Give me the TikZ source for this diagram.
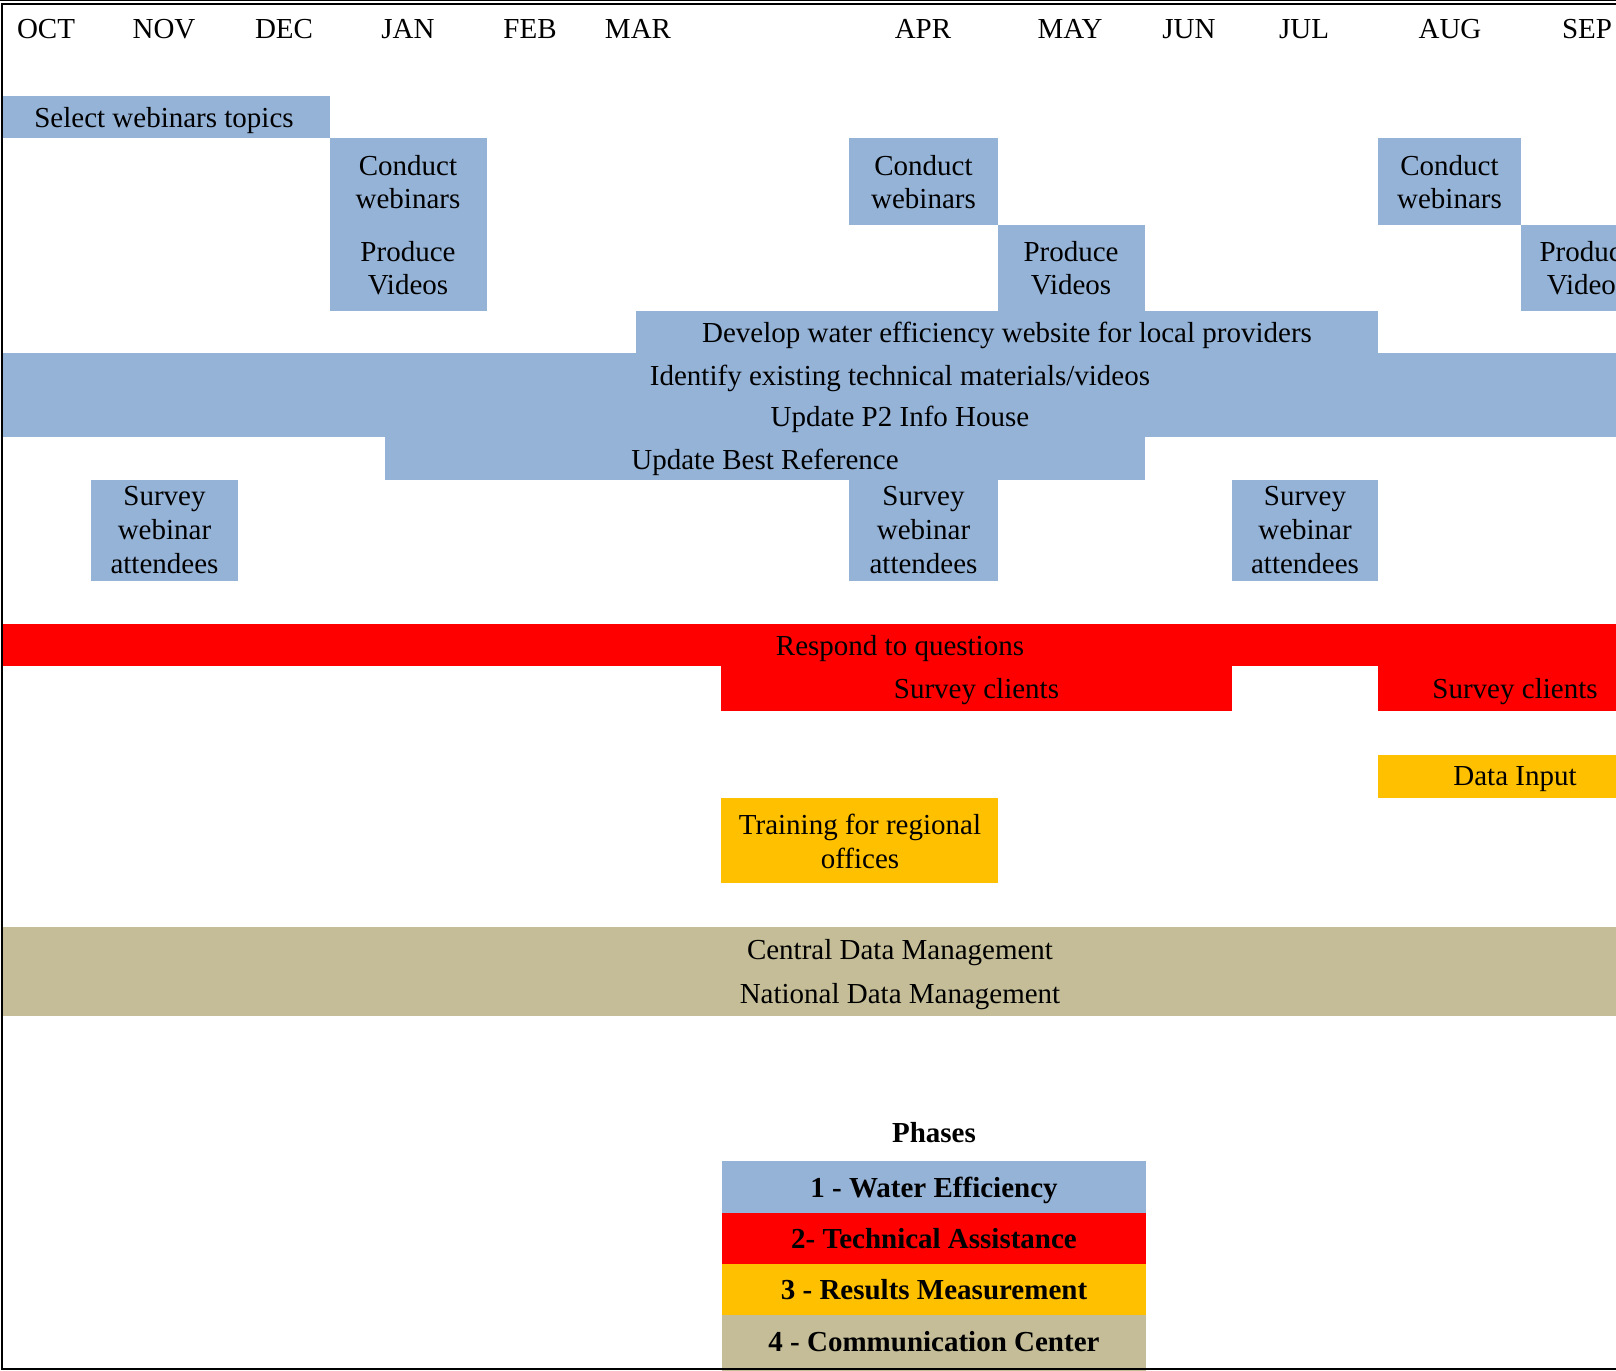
\documentclass[tikz,border=0pt]{standalone}
\usepackage{fontspec}
\setmainfont{Liberation Serif}
\definecolor{wblue}{HTML}{95B3D7}
\definecolor{tred}{HTML}{FF0000}
\definecolor{rgold}{HTML}{FFC000}
\definecolor{ctan}{HTML}{C4BD97}
\begin{document}
\begin{tikzpicture}[x=1pt,y=-1pt,
  lbl/.style={anchor=base, inner sep=0pt, font=\fontsize{29}{34}\selectfont},
  hd/.style={anchor=base, inner sep=0pt, font=\bfseries\fontsize{29}{34}\selectfont},
  pb/.style={fill=wblue}, pr/.style={fill=tred}, pg/.style={fill=rgold}, pt/.style={fill=ctan}]
\useasboundingbox (0,0) rectangle (1616,1370);
\clip (0,0) rectangle (1616,1370);
\fill[white] (0,0) rectangle (1616,1370);
% phase 1 bars
\path[pb] (2,96) rectangle (330,138);
\path[pb] (330,138) rectangle (487,311);
\path[pb] (849,138) rectangle (998,225);
\path[pb] (998,225) rectangle (1145,311);
\path[pb] (1378,138) rectangle (1521,225);
\path[pb] (1521,225) rectangle (1630,311);
\path[pb] (636,311) rectangle (1378,353);
\path[pb] (2,353) rectangle (1630,437);
\path[pb] (385,437) rectangle (1145,480);
\path[pb] (91,480) rectangle (238,581);
\path[pb] (849,480) rectangle (998,581);
\path[pb] (1232,480) rectangle (1378,581);
% phase 2 bars
\path[pr] (2,624) rectangle (1630,666);
\path[pr] (721,666) rectangle (1232,711);
\path[pr] (1378,666) rectangle (1630,711);
% phase 3 bars
\path[pg] (1378,755) rectangle (1630,798);
\path[pg] (721,798) rectangle (998,883);
% phase 4 bar
\path[pt] (2,927) rectangle (1630,1016);
% legend
\path[pb] (722,1161) rectangle (1146,1213);
\path[pr] (722,1213) rectangle (1146,1264);
\path[pg] (722,1264) rectangle (1146,1315);
\path[pt] (722,1315) rectangle (1146,1372);
% frame
\draw[line width=1pt] (0,0.5) -- (1616,0.5);
\draw[line width=2pt] (1,4.5) -- (1616,4.5);
\draw[line width=2.5pt] (2,4) -- (2,1369);
\draw[line width=2pt] (1,1369) -- (1616,1369);
% months
\node[lbl] (oct) at (46,39) {OCT};
\node[lbl] (nov) at (164,39) {NOV};
\node[lbl] (dec) at (284,39) {DEC};
\node[lbl] (jan) at (408,39) {JAN};
\node[lbl] (feb) at (530,39) {FEB};
\node[lbl] (mar) at (638,39) {MAR};
\node[lbl] (apr) at (923,39) {APR};
\node[lbl] (may) at (1070,39) {MAY};
\node[lbl] (jun) at (1189,39) {JUN};
\node[lbl] (jul) at (1304,39) {JUL};
\node[lbl] (aug) at (1450,39) {AUG};
\node[lbl] (sep) at (1587,39) {SEP};
% labels
\node[lbl] (sel) at (164,128) {Select webinars topics};
\node[lbl] (cw1a) at (408,175) {Conduct};
\node[lbl] (cw1b) at (408,208) {webinars};
\node[lbl] (pv1a) at (408,261) {Produce};
\node[lbl] (pv1b) at (408,294) {Videos};
\node[lbl] (cw2a) at (923.5,175) {Conduct};
\node[lbl] (cw2b) at (923.5,208) {webinars};
\node[lbl] (pv2a) at (1071,261) {Produce};
\node[lbl] (pv2b) at (1071,294) {Videos};
\node[lbl] (cw3a) at (1449.5,175) {Conduct};
\node[lbl] (cw3b) at (1449.5,208) {webinars};
\node[lbl] (pv3a) at (1587,261) {Produce};
\node[lbl] (pv3b) at (1587,294) {Videos};
\node[lbl] (dev) at (1007,342) {Develop water efficiency website for local providers};
\node[lbl] (idf) at (900,385) {Identify existing technical materials/videos};
\node[lbl] (p2) at (900,426) {Update P2 Info House};
\node[lbl] (bref) at (765,469) {Update Best Reference};
\node[lbl] (s1a) at (164.5,505) {Survey};
\node[lbl] (s1b) at (164.5,539) {webinar};
\node[lbl] (s1c) at (164.5,573) {attendees};
\node[lbl] (s2a) at (923.5,505) {Survey};
\node[lbl] (s2b) at (923.5,539) {webinar};
\node[lbl] (s2c) at (923.5,573) {attendees};
\node[lbl] (s3a) at (1305,505) {Survey};
\node[lbl] (s3b) at (1305,539) {webinar};
\node[lbl] (s3c) at (1305,573) {attendees};
\node[lbl] (resp) at (900,655) {Respond to questions};
\node[lbl] (sc1) at (976.5,698) {Survey clients};
\node[lbl] (sc2) at (1515,698) {Survey clients};
\node[lbl] (din) at (1515,785) {Data Input};
\node[lbl] (tra) at (860,834) {Training for regional};
\node[lbl] (trb) at (860,868) {offices};
\node[lbl] (cdm) at (900,959) {Central Data Management};
\node[lbl] (ndm) at (900,1003) {National Data Management};
% legend text
\node[hd] (ph) at (934,1142) {Phases};
\node[hd] (l1) at (934,1197) {1 - Water Efficiency};
\node[hd] (l2) at (934,1248) {2- Technical Assistance};
\node[hd] (l3) at (934,1299) {3 - Results Measurement};
\node[hd] (l4) at (934,1351) {4 - Communication Center};
\end{tikzpicture}
\end{document}
